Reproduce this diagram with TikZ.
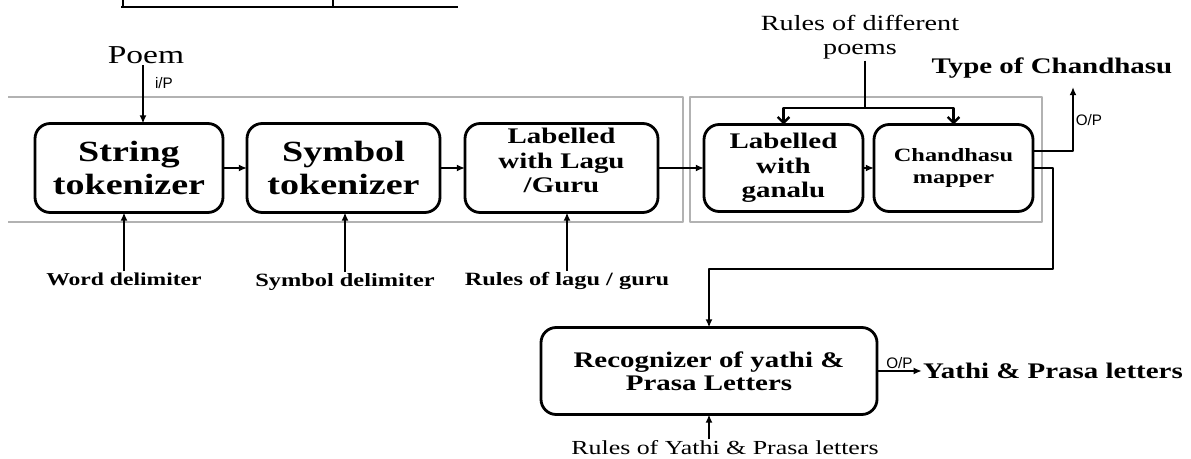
\documentclass[tikz,border=0pt]{standalone}
\usepackage{fontspec}
\setmainfont[FakeStretch=1.3]{Liberation Serif}
\newfontfamily\opfont{Liberation Sans}
\usetikzlibrary{arrows.meta}

\begin{document}
\begin{tikzpicture}[x=0.03cm, y=-0.03cm, line join=round, >={Latex[length=7pt,width=6pt]},
	blk/.style={draw, line width=2.4pt, rounded corners=13pt, align=center, inner sep=0pt, outer sep=0pt},
	grp/.style={draw=black!30, line width=1.6pt},
	arr/.style={->, line width=2pt},
	fork/.style={-{Straight Barb[length=5pt,width=10pt,line width=2pt]}, line width=2pt},
	txt/.style={align=center, inner sep=1pt},
	op/.style={font=\opfont\fontsize{13}{14}\selectfont, inner sep=0pt}]
	\useasboundingbox (0,0) rectangle (1191,459);
	% table edge at the top
	\draw[line width=2.4pt] (121,7) -- (458,7);
	\draw[line width=1.8pt] (123,-2) -- (123,7) (333,-2) -- (333,7);
	\draw[grp] (8,97) -- (683,97) -- (683,222) -- (8,222);
	\draw[grp] (690,97) rectangle (1042,222);
	\node[blk, minimum width=5.64cm, minimum height=2.67cm, font=\bfseries\fontsize{25}{28}\selectfont] (str) at (129,168) {String\\tokenizer};
	\node[blk, minimum width=5.79cm, minimum height=2.67cm, font=\bfseries\fontsize{25}{28}\selectfont] (sym) at (343.5,168) {Symbol\\tokenizer};
	\node[blk, minimum width=5.79cm, minimum height=2.67cm, font=\bfseries\fontsize{19}{21}\selectfont] (lagu) at (561.5,168) {Labelled\\with Lagu\\/Guru\vphantom{y}\\[-8pt]};
	\node[blk, minimum width=4.77cm, minimum height=2.61cm, font=\bfseries\fontsize{19}{21}\selectfont] (gan) at (783.5,168) {Labelled\\with\\ganalu};
	\node[blk, minimum width=4.77cm, minimum height=2.61cm, font=\bfseries\fontsize{16}{19}\selectfont] (map) at (953.5,168) {Chandhasu\\mapper};
	\node[blk, minimum width=10.08cm, minimum height=2.61cm, font=\bfseries\fontsize{19}{20}\selectfont] (rec) at (709,371) {Recognizer of yathi \&\\Prasa Letters};
	\node[txt, font=\fontsize{22}{24}\selectfont] (poem) at (146,55) {Poem};
	\node[txt, font=\bfseries\fontsize{15.5}{18}\selectfont] (wd) at (124,279) {Word delimiter};
	\node[txt, font=\bfseries\fontsize{16}{18}\selectfont] (sd) at (345,282) {Symbol delimiter};
	\node[txt, font=\bfseries\fontsize{16}{18}\selectfont] (rlg) at (567,281) {Rules of lagu / guru};
	\node[txt, font=\fontsize{18.5}{21}\selectfont] (rdp) at (860,37) {Rules of different\\poems};
	\node[txt, font=\bfseries\fontsize{19}{21}\selectfont] (toc) at (1052,68) {Type of Chandhasu};
	\node[txt, font=\bfseries\fontsize{19}{21}\selectfont] (yp) at (1053,371) {Yathi \& Prasa letters};
	\node[txt, font=\fontsize{17}{20}\selectfont] (ryp) at (725,448) {Rules of Yathi \& Prasa letters};
	\node[op] (ip) at (164,83) {i/P};
	\node[op] (op1) at (1089,120) {O/P};
	\coordinate (split) at (865,108);
	\coordinate (typeout) at (1073,87);
	\coordinate (bend) at (1053,269);
	\draw[arr] (poem.south -| 143,0) -- (str.north -| 143,0);
	\draw[arr] (str) -- (sym);
	\draw[arr] (sym) -- (lagu);
	\draw[arr] (lagu) -- (gan);
	\draw[arr] (gan) -- (map);
	\draw[arr] (wd.north) -- (wd.north |- str.south);
	\draw[arr] (sd.north) -- (sd.north |- sym.south);
	\draw[arr] (rlg.north) -- (rlg.north |- lagu.south);
	\draw[line width=2pt] (rdp.south -| split) -- (split);
	\draw[fork] (split) -| (gan.north);
	\draw[fork] (split) -| (map.north);
	\draw[arr] (map.east) ++(0,-17) -| (typeout);
	\draw[arr] (map.east) -| (bend) -| (rec.north);
	\draw[arr] (rec) -- node[op, above=1pt] {O/P} (yp);
	\draw[arr] (ryp.north -| rec) -- (rec.south);
\end{tikzpicture}
\end{document}
